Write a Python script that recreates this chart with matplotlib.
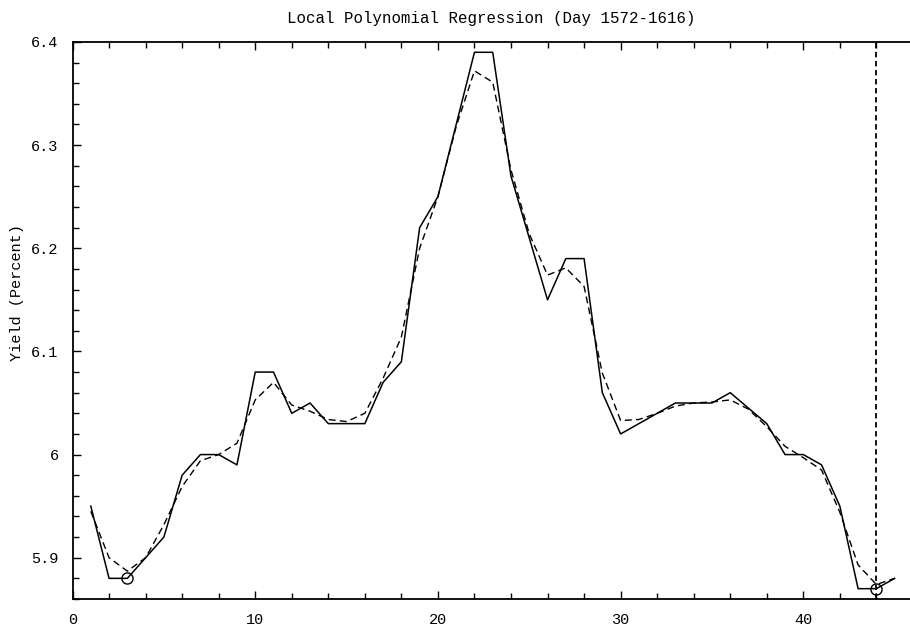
import numpy as np
import matplotlib
matplotlib.use('Agg')
import matplotlib.pyplot as plt
from matplotlib.ticker import MultipleLocator

plt.rcParams['font.family'] = ['Liberation Mono', 'DejaVu Sans Mono']

# day index within the window (Day 1572-1616)
day = np.arange(1, 46)

# observed yield (solid)
yield_obs = [5.95, 5.88, 5.88, 5.90, 5.92, 5.98, 6.00, 6.00, 5.99, 6.08,
             6.08, 6.04, 6.05, 6.03, 6.03, 6.03, 6.07, 6.09, 6.22, 6.25,
             6.32, 6.39, 6.39, 6.27, 6.21, 6.15, 6.19, 6.19, 6.06, 6.02,
             6.03, 6.04, 6.05, 6.05, 6.05, 6.06, 6.045, 6.03, 6.00, 6.00,
             5.99, 5.95, 5.87, 5.87, 5.88]

# local polynomial fit (dashed)
yield_fit = [5.945, 5.90, 5.887, 5.90, 5.932, 5.969, 5.994, 6.00, 6.011, 6.053,
             6.07, 6.048, 6.042, 6.034, 6.032, 6.04, 6.074, 6.114, 6.20, 6.25,
             6.318, 6.372, 6.361, 6.276, 6.214, 6.174, 6.181, 6.163, 6.079, 6.033,
             6.034, 6.04, 6.047, 6.05, 6.051, 6.053, 6.044, 6.027, 6.008, 5.997,
             5.985, 5.944, 5.893, 5.874, 5.88]

# highlighted points (circles)
mark_day = [3, 44]
mark_val = [5.88, 5.87]
cut_day = 44

fig = plt.figure(figsize=(9.1, 6.36), dpi=100)
ax = fig.add_axes([0.0797, 0.0582, 0.9203, 0.8758])

ax.plot(day, yield_obs, color='black', lw=1.1)
ax.plot(day, yield_fit, color='black', lw=1.0, ls=(0, (5, 3)))
ax.plot(mark_day, mark_val, 'o', mfc='none', mec='black', ms=8, mew=1.0)
ax.axvline(cut_day, color='black', lw=1.3, ls=(0, (3, 2)))

ax.set_xlim(0, 45.84)
ax.set_ylim(5.860, 6.4)

ax.xaxis.set_major_locator(MultipleLocator(10))
ax.xaxis.set_minor_locator(MultipleLocator(2))
ax.yaxis.set_major_locator(MultipleLocator(0.1))
ax.yaxis.set_minor_locator(MultipleLocator(0.02))
ax.set_yticks([5.9, 6.0, 6.1, 6.2, 6.3, 6.4])
ax.set_yticklabels(['5.9', '6', '6.1', '6.2', '6.3', '6.4'])

ax.tick_params(which='both', direction='in', top=True, right=False,
               labelsize=11, width=1.0)
ax.tick_params(which='major', length=6, pad=10)
ax.tick_params(which='minor', length=4)

for s in ['left', 'bottom', 'top']:
    ax.spines[s].set_linewidth(1.3)
ax.spines['right'].set_visible(False)

ax.set_title('Local Polynomial Regression (Day 1572-1616)', fontsize=11.3, pad=14)
ax.set_ylabel('Yield (Percent)', fontsize=11)
ax.yaxis.set_label_coords(-0.058, 0.55)

fig.savefig('out.png', dpi=100)
